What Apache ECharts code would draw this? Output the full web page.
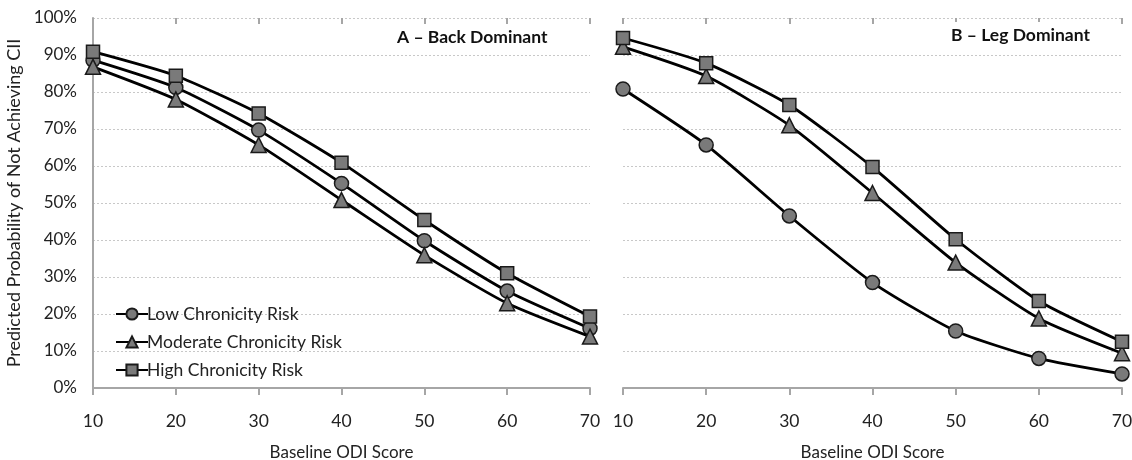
<!DOCTYPE html>
<html><head><meta charset="utf-8">
<script src="https://cdn.jsdelivr.net/npm/echarts@6/dist/echarts.min.js"></script>
<style>html,body{margin:0;padding:0;background:#fff}#c{width:1132px;height:460px}</style>
</head><body><div id="c"></div>
<script>
const odi = [10, 20, 30, 40, 50, 60, 70];
const seriesNames = ['Low Chronicity Risk', 'Moderate Chronicity Risk', 'High Chronicity Risk'];
const backLow = [88.6, 81.2, 69.7, 55.3, 39.8, 26.2, 16.1];
const backMod = [86.8, 78.0, 65.7, 50.8, 35.9, 22.9, 13.9];
const backHigh = [90.9, 84.4, 74.2, 60.9, 45.4, 31.0, 19.3];
const legLow = [80.8, 65.7, 46.5, 28.5, 15.4, 8.0, 3.8];
const legMod = [92.2, 84.3, 71.0, 52.7, 33.9, 18.8, 9.4];
const legHigh = [94.6, 87.8, 76.5, 59.7, 40.2, 23.5, 12.5];
const panelTitles = ['A \u2013 Back Dominant', 'B \u2013 Leg Dominant'];
const xTitle = 'Baseline ODI Score';
const yTitle = 'Predicted Probability of Not Achieving CII';

const FONT = 'Lato, "Open Sans", sans-serif';
const symbols = ['circle', 'triangle', 'rect'];
const symSizes = [14, 15, 13];
function pairs(v){ return odi.map((x,i)=>[x, v[i]]); }

const panels = [[backLow, backMod, backHigh], [legLow, legMod, legHigh]];
const grids = [
  {left: 93, width: 497, top: 18, bottom: 72, outerBoundsMode: 'none', containLabel: false},
  {left: 623, width: 499, top: 18, bottom: 72, outerBoundsMode: 'none', containLabel: false}
];
const xAxes = [], yAxes = [], series = [];
grids.forEach((g, gi) => {
  const base = {type:'value', gridIndex: gi, min: 10, max: 70, interval: 10};
  xAxes.push(Object.assign({}, base, {
    name: xTitle, nameLocation: 'middle', nameGap: 56,
    nameTextStyle: {fontFamily: FONT, fontSize: 17, color: '#222'},
    axisLine: {show: true, lineStyle: {color: '#a6a6a6', width: 2}},
    axisTick: {show: true, length: 7, lineStyle: {color: '#a6a6a6', width: 2}},
    axisLabel: {fontFamily: FONT, fontSize: 17.5, color: '#222', margin: 24},
    splitLine: {show: false}
  }));
  xAxes.push(Object.assign({}, base, {
    axisLine: {show: false},
    axisTick: {show: true, inside: true, length: 6, lineStyle: {color: '#a6a6a6', width: 2}},
    axisLabel: {show: false}, splitLine: {show: false}
  }));
  yAxes.push({
    type: 'value', gridIndex: gi, min: 0, max: 100, interval: 10,
    name: gi === 0 ? yTitle : '', nameLocation: 'middle', nameGap: 70,
    nameTextStyle: {fontFamily: FONT, fontSize: 18, color: '#222'},
    axisLine: {show: gi === 0, lineStyle: {color: '#a6a6a6', width: 2}},
    axisTick: {show: false},
    axisLabel: {show: gi === 0, fontFamily: FONT, fontSize: 17, color: '#222', formatter: '{value}%', margin: 16},
    splitLine: {show: true, lineStyle: {color: '#c8c8c8', type: [2, 2], width: 1}}
  });
  panels[gi].forEach((vals, si) => {
    series.push({
      type: 'line', name: seriesNames[si], xAxisIndex: gi * 2, yAxisIndex: gi,
      data: pairs(vals), smooth: 0.2,
      symbol: symbols[si], symbolSize: symSizes[si],
      lineStyle: {color: '#000', width: 2.8},
      itemStyle: {color: '#7a7a7a', borderColor: '#1a1a1a', borderWidth: 1.5},
      z: 3 + si
    });
  });
});

const chart = echarts.init(document.getElementById('c'), null, {renderer: 'canvas'});
chart.setOption({
  animation: false,
  backgroundColor: '#fff',
  grid: grids,
  xAxis: xAxes,
  yAxis: yAxes,
  title: [
    {text: panelTitles[0], left: 389, top: 24, textStyle: {fontFamily: FONT, fontSize: 17.5, fontWeight: 'bold', color: '#111'}, backgroundColor: '#fff', padding: [4, 8]},
    {text: panelTitles[1], left: 943, top: 22, textStyle: {fontFamily: FONT, fontSize: 17.5, fontWeight: 'bold', color: '#111'}, backgroundColor: '#fff', padding: [4, 8]}
  ],
  legend: {
    data: seriesNames, orient: 'vertical', left: 110, top: 300,
    itemWidth: 32, itemHeight: 14, itemGap: 10,
    backgroundColor: 'rgba(255,255,255,0)',
    textStyle: {fontFamily: FONT, fontSize: 17.5, color: '#222', padding: [0, 0, 0, -6]}
  },
  series: series
});
</script></body></html>
